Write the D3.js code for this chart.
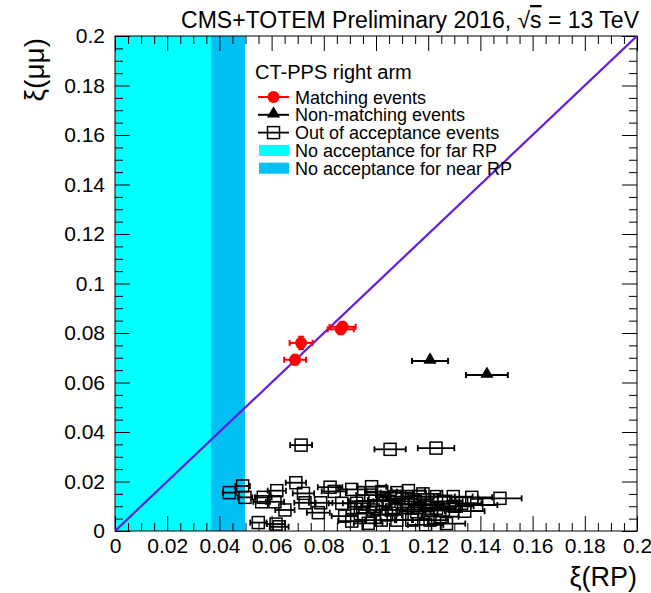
<!DOCTYPE html>
<html><head><meta charset="utf-8">
<script src="https://cdn.jsdelivr.net/npm/d3@7"></script>
<style>
html,body{margin:0;padding:0;background:#fff;}
svg{display:block;font-family:"Liberation Sans",Arial,Helvetica,sans-serif;}
</style></head>
<body><svg id="c" width="651" height="593"></svg>
<script>
// ---- data ----
const farBand = [0, 0.0368];
const nearBand = [0.0368, 0.0498];
const matchX = [0.0690, 0.0713, 0.0865, 0.0872];
const matchY = [0.0692, 0.0760, 0.0815, 0.0825];
const matchXErr = [0.0042, 0.0044, 0.0050, 0.0050];
const matchYErr = [0.0020, 0.0025, 0.0020, 0.0020];
const nonX = [0.1207, 0.1425];
const nonY = [0.0687, 0.0630];
const nonXErr = [0.0069, 0.0080];
const outX = [0.0713, 0.1054, 0.1230,
  0.0438, 0.0489, 0.0498, 0.0549, 0.0568, 0.0562, 0.0617, 0.0629, 0.0620, 0.0613,
  0.0651, 0.0693, 0.0722, 0.0728, 0.0779, 0.0788, 0.0824, 0.0869, 0.0907, 0.0907,
  0.0926, 0.0983, 0.1022, 0.1028, 0.0990, 0.0970, 0.1020, 0.1060, 0.1073, 0.1080,
  0.1124, 0.1124, 0.1137, 0.1156, 0.1169, 0.1194, 0.1207, 0.1213, 0.1232, 0.1232,
  0.1245, 0.1258, 0.1296, 0.1328, 0.1367, 0.1386, 0.1475,
  0.0950, 0.1000, 0.1050, 0.1100, 0.1150, 0.1180, 0.1100, 0.1040, 0.0940, 0.1160,
  0.1260, 0.1300, 0.1080, 0.0980, 0.0880, 0.1270, 0.1190, 0.0840, 0.1340, 0.0949];
const outY = [0.0347, 0.0330, 0.0335,
  0.0155, 0.0182, 0.0136, 0.0034, 0.0136, 0.0118, 0.0028, 0.0017, 0.0163, 0.0118,
  0.0085, 0.0195, 0.0152, 0.0114, 0.0074, 0.0114, 0.0177, 0.0112, 0.0168, 0.0040,
  0.0112, 0.0179, 0.0159, 0.0125, 0.0085, 0.0031, 0.0044, 0.0085, 0.0139, 0.0044,
  0.0163, 0.0110, 0.0044, 0.0078, 0.0139, 0.0105, 0.0044, 0.0085, 0.0139, 0.0092,
  0.0058, 0.0085, 0.0139, 0.0112, 0.0136, 0.0105, 0.0132,
  0.0120, 0.0100, 0.0120, 0.0130, 0.0120, 0.0150, 0.0070, 0.0065, 0.0070, 0.0095,
  0.0120, 0.0100, 0.0155, 0.0145, 0.0060, 0.0030, 0.0025, 0.0160, 0.0080, 0.0098];
const outXErr = [0.0042, 0.0060, 0.0070,
  0.0025, 0.0028, 0.0028, 0.0031, 0.0032, 0.0032, 0.0035, 0.0036, 0.0035, 0.0035,
  0.0037, 0.0039, 0.0041, 0.0041, 0.0044, 0.0045, 0.0047, 0.0050, 0.0052, 0.0052,
  0.0053, 0.0056, 0.0058, 0.0059, 0.0056, 0.0055, 0.0058, 0.0060, 0.0061, 0.0062,
  0.0064, 0.0064, 0.0065, 0.0066, 0.0067, 0.0068, 0.0069, 0.0069, 0.0070, 0.0070,
  0.0071, 0.0072, 0.0074, 0.0076, 0.0078, 0.0079, 0.0083,
  0.0054, 0.0057, 0.0060, 0.0063, 0.0066, 0.0067, 0.0063, 0.0059, 0.0054, 0.0066,
  0.0072, 0.0074, 0.0062, 0.0056, 0.0050, 0.0072, 0.0068, 0.0048, 0.0076, 0.0054];
const xTickLabels = ["0","0.02","0.04","0.06","0.08","0.1","0.12","0.14","0.16","0.18","0.2"];
const yTickLabels = ["0","0.02","0.04","0.06","0.08","0.1","0.12","0.14","0.16","0.18","0.2"];
const legendTitle = "CT-PPS right arm";
const legendLabels = ["Matching events","Non-matching events","Out of acceptance events","No acceptance for far RP","No acceptance for near RP"];

// ---- layout ----
const L = 115, R = 637, T = 36, B = 531;
const svg = d3.select("#c");
const x = d3.scaleLinear().domain([0, 0.2]).range([L, R]);
const y = d3.scaleLinear().domain([0, 0.2]).range([B, T]);
const cFar = "#00ffff", cNear = "#00c0f4", cDiag = "#6419e8";

svg.append("defs").append("clipPath").attr("id","clip")
  .append("rect").attr("x",L).attr("y",T).attr("width",R-L).attr("height",B-T);

// bands
svg.append("rect").attr("x",x(farBand[0])).attr("y",T).attr("width",x(farBand[1])-x(farBand[0])).attr("height",B-T).attr("fill",cFar);
svg.append("rect").attr("x",x(nearBand[0])).attr("y",T).attr("width",x(nearBand[1])-x(nearBand[0])).attr("height",B-T).attr("fill",cNear);

// axes
const majors = d3.range(0, 11).map(i => i*0.02);
const minors = d3.range(0, 41).map(i => i*0.005).filter(v => Math.abs(v/0.02 - Math.round(v/0.02)) > 1e-6);
const fmtX = (d,i) => xTickLabels[i];
const fmtY = (d,i) => yTickLabels[i];
function styleAxis(g){ g.selectAll("path.domain").remove(); g.selectAll("line").attr("stroke","#000"); g.selectAll("text").attr("fill","#000").attr("font-family",null); }
svg.append("g").attr("transform",`translate(0,${B})`)
  .call(d3.axisBottom(x).tickValues(majors).tickFormat(fmtX).tickSize(-15).tickPadding(7))
  .call(styleAxis).attr("font-size",21);
svg.append("g").attr("transform",`translate(0,${B})`)
  .call(d3.axisBottom(x).tickValues(minors).tickFormat("").tickSize(-8)).call(styleAxis);
svg.append("g").attr("transform",`translate(0,${T})`)
  .call(d3.axisTop(x).tickValues(majors).tickFormat("").tickSize(-15)).call(styleAxis);
svg.append("g").attr("transform",`translate(0,${T})`)
  .call(d3.axisTop(x).tickValues(minors).tickFormat("").tickSize(-8)).call(styleAxis);
svg.append("g").attr("transform",`translate(${L},0)`)
  .call(d3.axisLeft(y).tickValues(majors).tickFormat(fmtY).tickSize(-15).tickPadding(10))
  .call(styleAxis).attr("font-size",21);
svg.append("g").attr("transform",`translate(${L},0)`)
  .call(d3.axisLeft(y).tickValues(minors).tickFormat("").tickSize(-8)).call(styleAxis);
svg.append("g").attr("transform",`translate(${R},0)`)
  .call(d3.axisRight(y).tickValues(majors).tickFormat("").tickSize(-15)).call(styleAxis);
svg.append("g").attr("transform",`translate(${R},0)`)
  .call(d3.axisRight(y).tickValues(minors).tickFormat("").tickSize(-8)).call(styleAxis);
svg.append("rect").attr("x",L).attr("y",T).attr("width",R-L).attr("height",B-T)
  .attr("fill","none").attr("stroke","#000").attr("stroke-width",1);

// diagonal
svg.append("line").attr("clip-path","url(#clip)")
  .attr("x1",x(0)).attr("y1",y(0)).attr("x2",x(0.2)).attr("y2",y(0.2))
  .attr("stroke",cDiag).attr("stroke-width",2.2);

// error bar helper
function hbar(g, cx, cy, ex, color, w){
  g.append("line").attr("x1",x(cx-ex)).attr("x2",x(cx+ex)).attr("y1",y(cy)).attr("y2",y(cy)).attr("stroke",color).attr("stroke-width",w);
  [cx-ex, cx+ex].forEach(v => g.append("line").attr("x1",x(v)).attr("x2",x(v)).attr("y1",y(cy)-3).attr("y2",y(cy)+3).attr("stroke",color).attr("stroke-width",w));
}
function vbar(g, cx, cy, ey, color, w){
  g.append("line").attr("x1",x(cx)).attr("x2",x(cx)).attr("y1",y(cy-ey)).attr("y2",y(cy+ey)).attr("stroke",color).attr("stroke-width",w);
  [cy-ey, cy+ey].forEach(v => g.append("line").attr("y1",y(v)).attr("y2",y(v)).attr("x1",x(cx)-3).attr("x2",x(cx)+3).attr("stroke",color).attr("stroke-width",w));
}

// out of acceptance
const gOut = svg.append("g").attr("clip-path","url(#clip)");
outX.forEach((v,i) => {
  hbar(gOut, v, outY[i], outXErr[i], "#000", 1.8);
});
outX.forEach((v,i) => {
  gOut.append("rect").attr("x",x(v)-6).attr("y",y(outY[i])-6).attr("width",12).attr("height",12)
    .attr("fill","none").attr("stroke","#000").attr("stroke-width",1.5);
});

// non-matching
const gNon = svg.append("g");
const tri = d3.symbol().type(d3.symbolTriangle).size(75);
nonX.forEach((v,i) => {
  hbar(gNon, v, nonY[i], nonXErr[i], "#000", 2);
  gNon.append("path").attr("d",tri()).attr("transform",`translate(${x(v)},${y(nonY[i])-1})`).attr("fill","#000");
});

// matching
const gM = svg.append("g");
matchX.forEach((v,i) => {
  hbar(gM, v, matchY[i], matchXErr[i], "#f00", 2);
  vbar(gM, v, matchY[i], matchYErr[i], "#f00", 2);
  gM.append("circle").attr("cx",x(v)).attr("cy",y(matchY[i])).attr("r",6).attr("fill","#f00");
});

// legend
const lg = svg.append("g");
lg.append("text").attr("x",255).attr("y",79).attr("font-size",20).text(legendTitle);
const ly0 = 103.5, ldy = 17.8, lx = 295;
legendLabels.forEach((t,i) => {
  lg.append("text").attr("x",lx).attr("y",ly0+i*ldy).attr("font-size",18).text(t);
});
const cy = i => ly0 + i*ldy - 6.5;
lg.append("line").attr("x1",258).attr("x2",289).attr("y1",cy(0)).attr("y2",cy(0)).attr("stroke","#f00").attr("stroke-width",2);
lg.append("circle").attr("cx",273.5).attr("cy",cy(0)).attr("r",6).attr("fill","#f00");
lg.append("line").attr("x1",258).attr("x2",289).attr("y1",cy(1)).attr("y2",cy(1)).attr("stroke","#000").attr("stroke-width",2);
lg.append("path").attr("d",tri()).attr("transform",`translate(273.5,${cy(1)-1})`).attr("fill","#000");
lg.append("line").attr("x1",258).attr("x2",289).attr("y1",cy(2)).attr("y2",cy(2)).attr("stroke","#000").attr("stroke-width",1.8);
lg.append("rect").attr("x",267.5).attr("y",cy(2)-6).attr("width",12).attr("height",12).attr("fill","none").attr("stroke","#000").attr("stroke-width",1.5);
lg.append("rect").attr("x",259).attr("y",cy(3)-5.5).attr("width",30).attr("height",11).attr("fill",cFar);
lg.append("rect").attr("x",259).attr("y",cy(4)-5.5).attr("width",30).attr("height",11).attr("fill",cNear);

// title
const tt = svg.append("text").attr("x",639).attr("y",28).attr("text-anchor","end").attr("font-size",23);
tt.append("tspan").text("CMS+TOTEM Preliminary 2016, ");
tt.append("tspan").text("\u221A");
tt.append("tspan").attr("style","text-decoration: overline").text("s");
tt.append("tspan").text(" = 13 TeV");

// axis titles
svg.append("text").attr("x",637).attr("y",586).attr("text-anchor","end").attr("font-size",27).text("ξ(RP)");
svg.append("text").attr("transform","translate(44,38) rotate(-90)").attr("text-anchor","end").attr("font-size",28).text("ξ(μμ)");
</script></body></html>
